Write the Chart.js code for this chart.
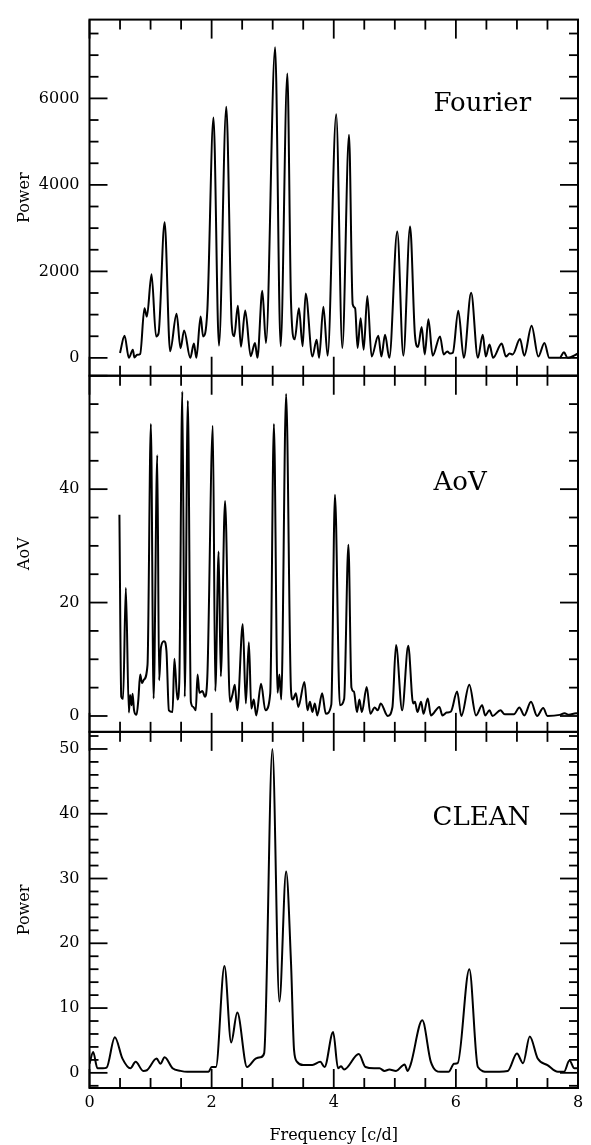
<!DOCTYPE html>
<html><head><meta charset="utf-8">
<script src="https://cdn.jsdelivr.net/npm/chart.js@4.4.1/dist/chart.umd.min.js"></script>
<style>html,body{margin:0;padding:0;background:#fff;}#wrap{width:591px;height:1145px;position:relative;}</style>
</head><body><div id="wrap"><canvas id="c" width="591" height="1145"></canvas></div>
<script>
// ---- Fourier periodogram ----
const freqFourier = [0.50,0.574,0.645,0.71,0.735,0.78,0.83,0.90,0.94,1.016,1.09,1.13,1.23,1.32,1.426,1.49,1.55,1.65,1.71,1.75,1.82,1.86,1.93,2.03,2.12,2.24,2.33,2.37,2.43,2.48,2.55,2.64,2.71,2.75,2.83,2.89,3.04,3.13,3.24,3.30,3.36,3.43,3.49,3.54,3.65,3.72,3.76,3.83,3.90,4.04,4.14,4.25,4.31,4.35,4.39,4.44,4.49,4.55,4.62,4.73,4.78,4.84,4.91,5.04,5.14,5.25,5.33,5.38,5.44,5.49,5.55,5.62,5.74,5.80,5.86,5.90,5.95,6.04,6.13,6.25,6.36,6.44,6.49,6.55,6.61,6.75,6.82,6.88,6.93,7.05,7.12,7.24,7.35,7.45,7.53,7.70,7.77,7.83,8.0];
const powerFourier = [115,513,0,190,10,70,90,1146,955,1935,497,560,3134,153,1018,225,635,0,330,0,955,497,1108,5556,283,5809,765,500,1208,260,1093,40,344,0,1552,344,7185,268,6573,1300,428,1146,268,1490,30,420,0,1185,50,5633,230,5158,1240,1150,230,917,190,1430,30,513,30,535,0,2920,50,3035,520,250,711,80,894,50,497,80,150,100,120,1087,0,1506,0,536,30,307,0,330,30,100,80,436,50,743,30,344,0,0,130,0,100];
// ---- AoV ----
const freqAoV = [0.49,0.52,0.55,0.595,0.645,0.665,0.69,0.705,0.73,0.77,0.80,0.83,0.86,0.89,0.95,1.005,1.05,1.11,1.14,1.17,1.22,1.26,1.30,1.36,1.39,1.44,1.47,1.52,1.56,1.61,1.66,1.70,1.74,1.77,1.80,1.85,1.89,1.93,2.02,2.06,2.115,2.15,2.22,2.30,2.34,2.38,2.42,2.51,2.56,2.61,2.65,2.69,2.73,2.81,2.88,2.96,3.02,3.08,3.11,3.14,3.22,3.30,3.33,3.38,3.42,3.52,3.57,3.61,3.65,3.69,3.73,3.81,3.87,3.96,4.02,4.10,4.17,4.24,4.29,4.33,4.38,4.42,4.46,4.54,4.60,4.67,4.72,4.77,4.85,4.88,4.96,5.02,5.12,5.22,5.30,5.33,5.37,5.43,5.47,5.54,5.59,5.73,5.78,5.85,5.92,6.02,6.09,6.22,6.33,6.43,6.48,6.55,6.60,6.73,6.80,6.95,7.04,7.12,7.23,7.33,7.43,7.50,7.70,7.78,7.85,7.97,8.0];
const valAoV = [35.5,3.4,3.0,22.6,0.6,3.7,1.9,3.9,1.0,0.2,2.9,7.3,5.8,6.4,9,51.5,3.1,46,6.3,12.1,13.2,11.5,1.0,0.7,10.1,2.9,5.9,57.2,3.4,55.6,2.5,1.6,1.0,7.3,4.1,4.4,3.4,7.0,51.2,4.4,29,7.0,37.9,2.5,3.7,5.5,1.0,16.2,2.2,13.0,1.3,2.9,0.1,5.7,1.0,4,51.5,4.1,7.3,2.9,56.8,4.5,2.9,4.0,1.6,6.0,1.0,2.5,0.7,2.2,0.1,4.0,0.4,2.0,39.0,1.9,3,30.2,5.0,4.3,0.7,2.9,0.7,5.1,0.4,1.5,1.0,2.2,0.5,0.0,1.5,12.5,1.0,12.4,2.2,2.5,0.7,2.5,0.4,3.1,0.1,1.6,0.1,0.6,0.8,4.3,0,5.5,0.1,1.9,0.1,1.0,0,1.0,0.3,0.3,1.5,0.1,2.5,0,1.4,0,0.2,0.5,0.2,0.5,0.4];
// ---- CLEAN ----
const freqClean = [0.0,0.06,0.13,0.22,0.28,0.415,0.54,0.67,0.755,0.88,0.94,1.10,1.16,1.23,1.36,1.49,1.6,1.95,2.0,2.07,2.21,2.32,2.42,2.58,2.72,2.80,2.86,2.995,3.11,3.22,3.30,3.35,3.40,3.50,3.65,3.78,3.85,3.99,4.07,4.12,4.17,4.41,4.52,4.66,4.75,4.83,4.91,5.02,5.16,5.21,5.26,5.45,5.59,5.75,5.88,5.97,6.03,6.22,6.36,6.52,6.85,7.0,7.10,7.21,7.34,7.50,7.67,7.77,7.86,7.94,8.0];
const powerClean = [1.4,3.2,0.7,0.7,0.8,5.5,2.2,0.7,1.7,0.3,0.4,2.2,1.4,2.4,0.7,0.3,0.15,0.15,0.9,0.9,16.5,4.7,9.3,0.9,2.2,2.4,3.0,50,11.0,31.1,17,3.5,1.7,1.2,1.2,1.7,0.9,6.3,0.7,1.0,0.5,2.9,0.9,0.7,0.7,0.3,0.5,0.3,1.3,0.3,1.3,8.1,1.7,0.15,0.15,1.4,1.5,16.0,0.9,0.15,0.3,3.0,1.5,5.6,2.2,1.2,0.15,0.15,1.9,0.7,0.7];
// ---- ticks & labels ----
const freqTicks = [0,2,4,6,8];
const fourierTicks = [0,2000,4000,6000];
const aovTicks = [0,20,40];
const cleanTicks = [0,10,20,30,40,50];
const panelNames = ['Fourier','AoV','CLEAN'];
const yTitles = ['Power','AoV','Power'];
const xTitle = 'Frequency [c/d]';

const FONT = '"DejaVu Serif"';
Chart.defaults.font.family = FONT;
Chart.defaults.color = '#000';

const pts = (xs, ys) => xs.map((x, i) => ({x: x, y: ys[i]}));
const lineDs = (data, axis) => ({data: data, yAxisID: axis, borderColor: '#000', borderWidth: 2,
  pointRadius: 0, fill: false, cubicInterpolationMode: 'monotone'});

const setTicks = (arr) => (s) => { s.ticks = arr.map(v => ({value: v})); };
const plainLabel = (v) => String(v);

function yScale(ticksArr, min, max, title, w) {
  return {
    type: 'linear', position: 'left', stack: 'panels', stackWeight: 1, weight: w,
    min: min, max: max,
    afterBuildTicks: setTicks(ticksArr),
    afterFit: (s) => { s.width = 89.5; },
    grid: {display: false, drawTicks: false}, border: {display: false},
    ticks: {font: {size: 16}, padding: 10, color: '#000', callback: plainLabel},
    title: {display: true, text: title, font: {size: 16}, padding: {top: 15, bottom: 0}, color: '#000'}
  };
}

const panelCfg = [
  {id: 'yF', minor: 500, major: 2000, lx: 344, ly: 91.5},
  {id: 'yA', minor: 5, major: 20, lx: 344, ly: 114},
  {id: 'yC', minor: 2, major: 10, lx: 343, ly: 93}
];

const framePlugin = {
  id: 'frame',
  afterDraw(chart) {
    const ctx = chart.ctx, xs = chart.scales.x;
    const L = chart.chartArea.left, R = chart.chartArea.right;
    const seg = (a, b, c, d) => { ctx.beginPath(); ctx.moveTo(a, b); ctx.lineTo(c, d); ctx.stroke(); };
    ctx.save();
    ctx.strokeStyle = '#000';
    panelCfg.forEach((p, i) => {
      const s = chart.scales[p.id];
      const T = s.top, B = s.bottom;
      ctx.lineWidth = 1.8;
      for (let k = 0; k <= 16; k++) {
        const px = xs.getPixelForValue(k * 0.5);
        const len = (k % 4 === 0) ? 19 : 10;
        seg(px, T, px, T + len);
        seg(px, B, px, B - len);
      }
      const v0 = Math.ceil(s.min / p.minor) * p.minor;
      for (let v = v0; v <= s.max + 1e-9; v += p.minor) {
        const py = s.getPixelForValue(v);
        const r = v / p.major;
        const len = Math.abs(r - Math.round(r)) < 1e-6 ? 18 : 9;
        seg(L, py, L + len, py);
        seg(R, py, R - len, py);
      }
      ctx.lineWidth = 2;
      ctx.strokeRect(L, T, R - L, B - T);
      ctx.font = '26px ' + FONT;
      ctx.fillStyle = '#000';
      ctx.textAlign = 'left';
      ctx.textBaseline = 'alphabetic';
      ctx.fillText(panelNames[i], L + p.lx, T + p.ly);
    });
    ctx.restore();
  }
};

new Chart(document.getElementById('c'), {
  type: 'line',
  data: {datasets: [
    lineDs(pts(freqFourier, powerFourier), 'yF'),
    lineDs(pts(freqAoV, valAoV), 'yA'),
    lineDs(pts(freqClean, powerClean), 'yC')
  ]},
  options: {
    responsive: false, animation: false,
    layout: {padding: {left: 0, top: 10.5, right: 13, bottom: 0}},
    plugins: {legend: {display: false}, tooltip: {enabled: false}},
    scales: {
      x: {type: 'linear', position: 'bottom', min: 0, max: 8,
        afterBuildTicks: setTicks(freqTicks),
        afterFit: (s) => { s.height = 57; },
        grid: {display: false, drawTicks: false}, border: {display: false},
        ticks: {font: {size: 16}, padding: 5, color: '#000', maxRotation: 0, callback: plainLabel},
        title: {display: true, text: xTitle, font: {size: 16}, padding: {top: 0, bottom: 0}, color: '#000'}
      },
      yF: yScale(fourierTicks, -413, 7822, yTitles[0], 3),
      yA: yScale(aovTicks, -2.8, 60, yTitles[1], 2),
      yC: yScale(cleanTicks, -2.34, 52.64, yTitles[2], 1)
    }
  },
  plugins: [framePlugin]
});
</script></body></html>
